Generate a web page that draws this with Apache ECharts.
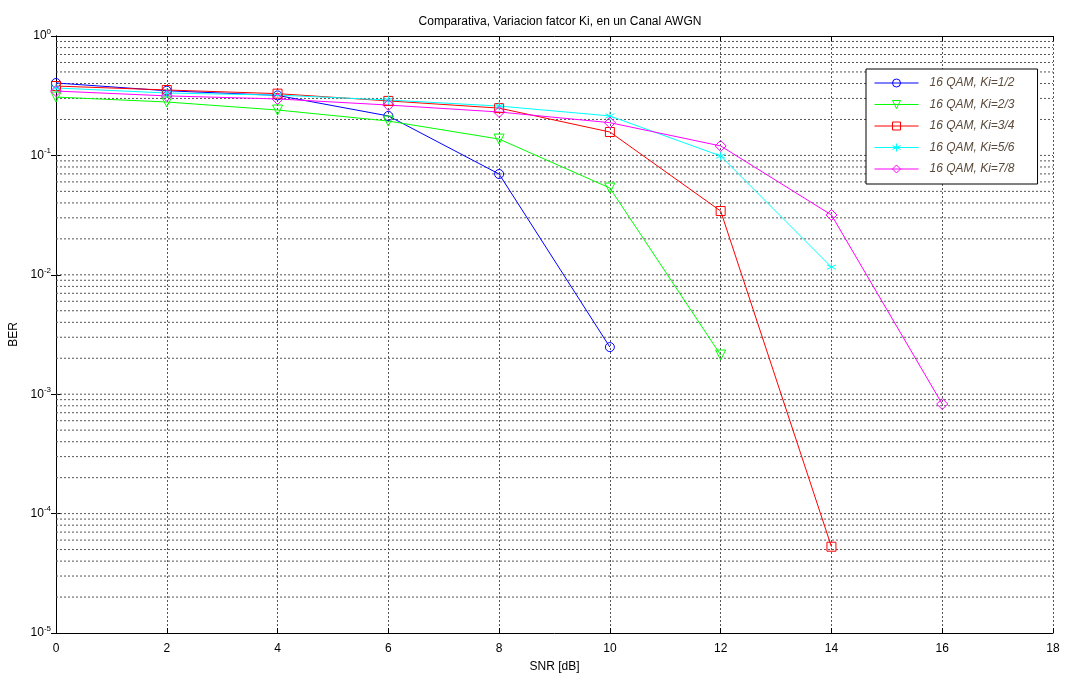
<!DOCTYPE html>
<html><head><meta charset="utf-8">
<script src="https://cdn.jsdelivr.net/npm/echarts@6/dist/echarts.min.js"></script>
<style>html,body{margin:0;padding:0;background:#fff}#c{width:1066px;height:674px}</style>
</head><body><div id="c"></div>
<script>
const snr = [0, 2, 4, 6, 8, 10, 12, 14, 16];
const ki12 = [0.404, 0.348, 0.318, 0.214, 0.0698, 0.00248];
const ki23 = [0.308, 0.280, 0.240, 0.194, 0.137, 0.0533, 0.00213];
const ki34 = [0.381, 0.353, 0.329, 0.286, 0.249, 0.157, 0.0342, 0.0000528];
const ki56 = [0.367, 0.333, 0.320, 0.291, 0.259, 0.214, 0.0989, 0.0116];
const ki78 = [0.346, 0.315, 0.297, 0.264, 0.231, 0.188, 0.120, 0.0317, 0.000828];
const names = ['16 QAM, Ki=1/2','16 QAM, Ki=2/3','16 QAM, Ki=3/4','16 QAM, Ki=5/6','16 QAM, Ki=7/8'];
const colors = ['#0000ff','#00ff00','#ff0000','#00ffff','#ff00ff'];
const symbols = ['circle','triangle','rect','path://M5 0 L5 10 M0.7 2.5 L9.3 7.5 M9.3 2.5 L0.7 7.5','diamond'];
const rotations = [0, 180, 0, 0, 0];
const sizes = [9, 10, 9, 9, 11];
const allData = [ki12, ki23, ki34, ki56, ki78];

const gridValues = [];
for (let d = -5; d < 0; d++) {
  for (let k = 1; k <= 9; k++) if (!(d === -5 && k === 1)) gridValues.push(k * Math.pow(10, d));
}

const font = 'Liberation Sans, Arial, sans-serif';
const series = [];
gridValues.forEach(v => {
  series.push({
    type: 'line', silent: true, symbol: 'none', z: 1,
    data: [[0, v], [18, v]],
    lineStyle: {color: '#555', type: [2, 2], width: 1},
    emphasis: {disabled: true}, tooltip: {show: false}
  });
});
allData.forEach((arr, i) => series.push({
  name: names[i], type: 'line',
  data: arr.map((v, j) => [snr[j], v]),
  symbol: symbols[i], symbolSize: sizes[i], symbolRotate: rotations[i],
  showAllSymbol: true,
  lineStyle: {color: colors[i], width: 1},
  itemStyle: {color: 'rgba(255,255,255,0)', borderColor: colors[i], borderWidth: 1},
  emphasis: {disabled: true}, z: 5
}));

const chart = echarts.init(document.getElementById('c'), null, {renderer: 'canvas'});
chart.setOption({
  animation: false,
  backgroundColor: '#fff',
  title: {text: 'Comparativa, Variacion fatcor Ki, en un Canal AWGN', left: 555, top: 11, textAlign: 'center',
    textStyle: {fontFamily: font, fontSize: 12, fontWeight: 'normal', color: '#000'}},
  grid: {left: 56, right: 13, top: 36, bottom: 41, containLabel: false, outerBoundsMode: 'none'},
  legend: {
    data: names, orient: 'vertical', left: 866, top: 69,
    itemWidth: 44, itemHeight: 10, itemGap: 9.5,
    padding: [8, 23, 9, 8],
    backgroundColor: '#fff', borderColor: '#000', borderWidth: 1,
    itemStyle: {color: 'rgba(255,255,255,0)', borderWidth: 1},
    lineStyle: {width: 1},
    textStyle: {fontFamily: font, fontSize: 12, fontStyle: 'italic', color: '#5a4a3a', padding: [0,0,0,6]}
  },
  xAxis: [{
    type: 'value', min: 0, max: 18, interval: 2,
    name: 'SNR [dB]', nameLocation: 'middle', nameGap: 28,
    nameTextStyle: {fontFamily: font, fontSize: 12, color: '#000'},
    axisLine: {lineStyle: {color: '#000', width: 1}},
    axisTick: {inside: true, length: 5, lineStyle: {color: '#000'}},
    axisLabel: {fontFamily: font, fontSize: 12, color: '#000', margin: 10},
    splitLine: {show: true, lineStyle: {color: '#555', type: [2, 2], width: 1}}
  }, {
    type: 'value', min: 0, max: 18, interval: 2, position: 'top',
    axisLine: {show: true, lineStyle: {color: '#000'}},
    axisTick: {inside: true, length: 5, lineStyle: {color: '#000'}},
    axisLabel: {show: false}, splitLine: {show: false}
  }],
  yAxis: [{
    type: 'log', logBase: 10, min: 1e-5, max: 1,
    name: 'BER', nameLocation: 'middle', nameGap: 28, nameRotate: 90,
    nameTextStyle: {fontFamily: font, fontSize: 12, color: '#000'},
    axisLine: {show: true, lineStyle: {color: '#000', width: 1}},
    axisTick: {inside: true, length: 5, lineStyle: {color: '#000'}},
    axisLabel: {fontFamily: font, fontSize: 12, color: '#000', margin: 5,
      formatter: v => '10{s|' + Math.round(Math.log10(v)) + '}',
      rich: {s: {fontSize: 8, fontFamily: font, color: '#000', verticalAlign: 'bottom', padding: [0, 0, 9, 0]}}},
    splitLine: {show: false}
  }, {
    type: 'log', logBase: 10, min: 1e-5, max: 1, position: 'right',
    axisLine: {show: true, lineStyle: {color: '#000'}},
    axisTick: {inside: true, length: 5, lineStyle: {color: '#000'}},
    axisLabel: {show: false}, splitLine: {show: false}
  }],
  series: series
});
</script></body></html>
